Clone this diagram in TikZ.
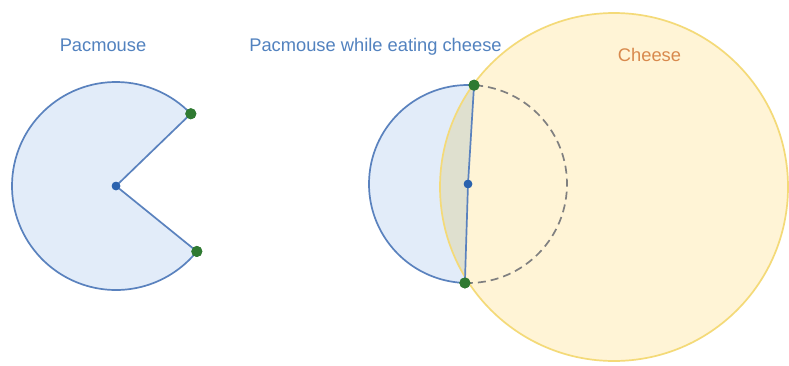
\documentclass[tikz,border=0pt]{standalone}
\usepackage{fontspec}
\setmainfont{Liberation Sans}
\definecolor{pacfill}{HTML}{E2ECF9}
\definecolor{pacline}{HTML}{5A82BE}
\definecolor{chfill}{HTML}{FFF4D6}
\definecolor{chline}{HTML}{F4DA78}
\definecolor{overlapc}{RGB}{223,224,207}
\definecolor{dotgreen}{HTML}{2F7A32}
\definecolor{dotblue}{HTML}{2A62AE}
\definecolor{txtblue}{HTML}{5282BF}
\definecolor{txtorange}{HTML}{D8894D}
\definecolor{dashgray}{HTML}{808080}
\begin{document}
\begin{tikzpicture}[x=1pt,y=1pt,
  outline/.style={draw=pacline, line width=1.7pt, line join=round},
  gdot/.style={circle, fill=dotgreen, inner sep=0pt, minimum size=11pt},
  bdot/.style={circle, fill=dotblue, inner sep=0pt, minimum size=8.5pt},
  lbl/.style={font=\fontsize{18.3}{20}\selectfont, anchor=base, inner sep=0pt}]
\useasboundingbox (0,0) rectangle (789,365);
\fill[white] (0,0) rectangle (789,365);

% ---- left pacmouse
\coordinate (c1) at (116,179);
\path (c1) ++(44:104) coordinate (m1a);
\path (c1) ++(321:104) coordinate (m1b);
\fill[pacfill] (c1) -- (m1a) arc[start angle=44, end angle=321, radius=104] -- cycle;
\draw[outline] (m1a) arc[start angle=44, end angle=321, radius=104];
\node[bdot] (ctr1) at (c1) {};
\node[gdot] (g1a) at (m1a) {};
\node[gdot] (g1b) at (m1b) {};
\draw[outline] (g1a.center) -- (ctr1.center) -- (g1b.center);
\node[bdot] at (c1) {};
\node[gdot] at (m1a) {};
\node[gdot] at (m1b) {};

% ---- right: pacmouse eating cheese
\coordinate (c2) at (468,181);
\coordinate (ch) at (614,178);
\path (c2) ++(86.5:99) coordinate (t2);
\path (c2) ++(268.2:99) coordinate (b2);
\fill[pacfill] (t2) arc[start angle=86.5, end angle=268.2, radius=99] -- (c2) -- cycle;
\fill[chfill] (ch) circle[radius=174];
\begin{scope}
  \clip (ch) circle[radius=174];
  \fill[overlapc] (t2) arc[start angle=86.5, end angle=268.2, radius=99] -- (c2) -- cycle;
\end{scope}
\draw[chline, line width=1.7pt] (ch) circle[radius=174];
\draw[dashgray, dash pattern=on 8pt off 5pt, line width=1.7pt] (b2) arc[start angle=268.2, end angle=446.5, radius=99];
\draw[outline] (t2) arc[start angle=86.5, end angle=268.2, radius=99];
\node[bdot] (ctr2) at (c2) {};
\node[gdot] (g2a) at (t2) {};
\node[gdot] (g2b) at (b2) {};
\draw[outline] (g2a.center) -- (ctr2.center) -- (g2b.center);
\node[bdot] at (c2) {};
\node[gdot] at (t2) {};
\node[gdot] at (b2) {};

% ---- labels
\node[lbl, text=txtblue] (l1) at (103,313) {Pacmouse};
\node[lbl, text=txtblue] (l2) at (375.5,313.5) {Pacmouse while eating cheese};
\node[lbl, text=txtorange] (l3) at (649.5,304) {Cheese};
\end{tikzpicture}
\end{document}
